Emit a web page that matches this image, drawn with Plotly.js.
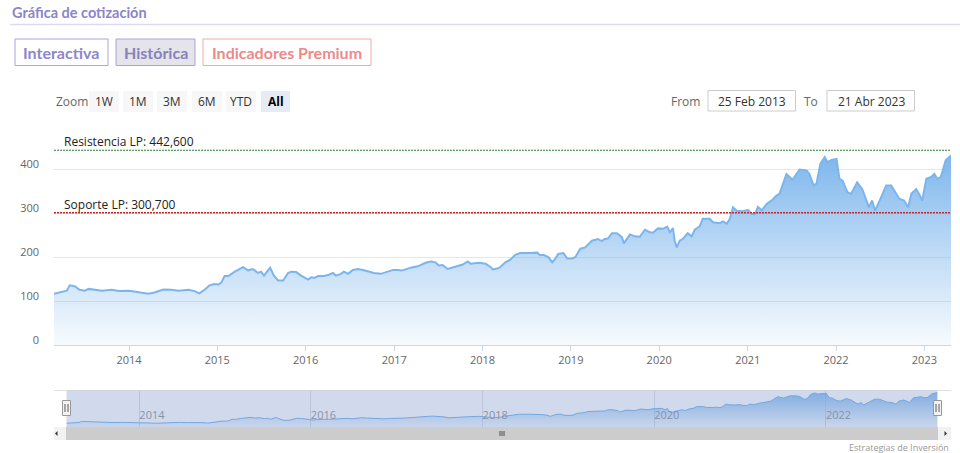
<!DOCTYPE html>
<html>
<head>
<meta charset="utf-8">
<script src="https://cdn.plot.ly/plotly-3.0.1.min.js"></script>
<style>
html,body{margin:0;padding:0;background:#fff;}
#chart{width:960px;height:453px;}
</style>
</head>
<body>
<div id="chart"></div>
<script>
// ---------------- DATA ----------------
const dates = [
"2013-02-25","2013-03-28","2013-04-19","2013-05-01","2013-05-21","2013-06-11","2013-07-02","2013-07-18","2013-08-12","2013-09-11",
"2013-10-22","2013-11-20","2014-01-01","2014-02-11","2014-03-22","2014-04-16","2014-05-23","2014-06-25","2014-07-24","2014-09-04",
"2014-09-29","2014-10-19","2014-11-09","2014-11-30","2014-12-20","2015-01-06","2015-01-18","2015-01-31","2015-02-16","2015-03-11",
"2015-04-17","2015-05-08","2015-05-28","2015-06-18","2015-07-01","2015-07-13","2015-07-29","2015-08-07","2015-08-23","2015-09-09",
"2015-09-30","2015-10-20","2015-11-02","2015-11-23","2015-12-13","2016-01-11","2016-01-24","2016-02-05","2016-02-22","2016-03-16",
"2016-04-06","2016-04-23","2016-05-05","2016-05-26","2016-06-07","2016-06-24","2016-07-14","2016-08-04","2016-08-29","2016-09-19",
"2016-10-09","2016-11-07","2016-11-28","2016-12-27","2017-01-17","2017-01-29","2017-02-11","2017-02-27","2017-03-10","2017-04-08",
"2017-05-11","2017-06-01","2017-06-21","2017-07-03","2017-07-20","2017-08-10","2017-09-04","2017-10-11","2017-11-01","2017-11-13",
"2017-12-16","2018-01-14","2018-02-04","2018-02-12","2018-03-03","2018-03-15","2018-04-05","2018-04-26","2018-05-16","2018-06-06",
"2018-07-17","2018-08-15","2018-08-27","2018-09-09","2018-09-30","2018-10-16","2018-10-28","2018-11-10","2018-12-01","2018-12-17",
"2019-01-07","2019-01-20","2019-02-09","2019-03-01","2019-03-29","2019-04-23","2019-05-09","2019-05-21","2019-06-03","2019-06-20",
"2019-07-10","2019-07-31","2019-08-08","2019-09-02","2019-09-23","2019-10-13","2019-11-03","2019-11-24","2019-12-06","2019-12-27",
"2020-01-17","2020-02-03","2020-02-15","2020-02-27","2020-03-05","2020-03-14","2020-03-26","2020-04-08","2020-04-28","2020-05-14",
"2020-05-27","2020-06-17","2020-06-29","2020-07-28","2020-08-10","2020-09-08","2020-09-20","2020-10-07","2020-10-19","2020-11-01",
"2020-11-17","2020-12-12","2021-01-02","2021-01-18","2021-01-31","2021-02-12","2021-02-28","2021-03-19","2021-04-09","2021-04-30",
"2021-05-12","2021-05-24","2021-06-10","2021-07-05","2021-08-03","2021-09-01","2021-09-13","2021-09-30","2021-10-12","2021-10-28",
"2021-11-15","2021-11-27","2021-12-13","2022-01-03","2022-01-15","2022-01-28","2022-02-17","2022-03-04","2022-03-29","2022-04-19",
"2022-05-05","2022-05-17","2022-05-30","2022-06-11","2022-07-06","2022-07-27","2022-08-17","2022-09-07","2022-09-19","2022-10-09",
"2022-10-26","2022-11-08","2022-11-28","2022-12-10","2022-12-23","2023-01-09","2023-01-29","2023-02-11","2023-02-23","2023-03-10",
"2023-03-30","2023-04-21"
];
const prices = [
116.5,120,123.5,135.6,133.6,125.5,123.5,127.5,125.5,123.5,
125.5,122.5,123.5,120,116.5,119.5,126,125.5,123.5,125.5,
122.5,117.5,125.5,135.6,138.6,137.6,142.6,156.7,156.7,165.7,
176.8,169.7,172.7,163.7,166.7,157.7,170.7,175.8,157.7,146.6,
146.6,163.7,166.7,165.7,157.7,148.6,153.7,152.6,156.7,156.7,
159.7,163.7,157.7,161.7,166.7,161.7,170.7,172.7,169.7,166.7,
163.7,161.7,165.7,170.7,170.7,169.3,170.7,174.7,175.8,178.8,
186.8,189.8,187.8,180.8,181.8,172.7,176.8,182.8,189.8,184.8,
186.8,184.8,176.8,171.7,173.7,176.8,187.8,193.8,204.9,208.9,
208.9,209.9,203.9,204.9,199.9,187.8,195.8,206.9,208.9,196.8,
196.8,199.9,218.9,221.9,237,241,236,241,242,254,
254,245,231,251,247,246,262,256,255,265,
264,269,256,266,237,222,237,241,254,247,
262,270,287,287,279,277,281,276,287,313,
305,304,307,298,298,314,306,320,328,339.5,
343.5,362.6,388.7,375.6,398.8,396.7,388.7,362.6,366.6,411.8,
426.9,415.8,420.8,422.9,377.7,373.6,347.5,343.5,369.6,354.5,
328.4,313,328.4,305,335.5,362.6,362.6,343.5,332.5,328.4,
313,343.5,354.5,343.5,328.4,377.7,381.7,388.7,377.7,381.7,
419.8,430.9
];
const yearTicks = ["2014-01-01","2015-01-01","2016-01-01","2017-01-01","2018-01-01","2019-01-01","2020-01-01","2021-01-01","2022-01-01","2023-01-01"];
const yearLabels = ["2014","2015","2016","2017","2018","2019","2020","2021","2022","2023"];
const navTicks = ["2014-01-01","2016-01-01","2018-01-01","2020-01-01","2022-01-01"];
const navLabels = ["2014","2016","2018","2020","2022"];
const yTickVals = [0,100,200,300,400,500];
const yTickText = ["0","100","200","300","400",""];
const levelNames = ["Resistencia LP","Soporte LP"];
const levelValues = [442.6,300.7];
const zoomButtons = ["1W","1M","3M","6M","YTD","All"];
const tabLabels = ["Interactiva","Histórica","Indicadores Premium"];
const chartTitle = "Gráfica de cotización";
const fromLabel = "25 Feb 2013";
const toLabel = "21 Abr 2023";
const creditText = "Estrategias de Inversión";

// ---------------- HELPERS ----------------
const W = 960, H = 453;
const px = x => x / W;
const py = y => 1 - y / H;
const FONT = "Open Sans, DejaVu Sans, sans-serif";
const fmt = v => v.toFixed(3).replace('.', ',');

const blue = "#7cb5ec";

const traces = [
  {
    type: "scatter", mode: "lines", x: dates, y: prices,
    xaxis: "x", yaxis: "y",
    line: {color: blue, width: 2},
    fill: "tozeroy",
    fillgradient: {type: "vertical", start: 0, stop: 431,
      colorscale: [[0, "rgba(124,181,236,0.06)"], [0.5, "rgba(124,181,236,0.5)"], [1, "rgba(124,181,236,0.98)"]]},
    hoverinfo: "skip", showlegend: false
  },
  {
    type: "scatter", mode: "lines", x: dates, y: prices,
    xaxis: "x2", yaxis: "y2",
    line: {color: blue, width: 1},
    fill: "tozeroy",
    fillgradient: {type: "vertical", start: 78, stop: 431,
      colorscale: [[0, "rgba(124,181,236,0.08)"], [1, "rgba(124,181,236,0.85)"]]},
    hoverinfo: "skip", showlegend: false
  }
];

const shapes = [];
const annotations = [];

// title and divider
annotations.push({xref:"paper", yref:"paper", x:px(10), y:py(12), xanchor:"left", yanchor:"middle",
  text:"<b>"+chartTitle+"</b>", showarrow:false, font:{family:"Lato, Inter, sans-serif", size:14.5, color:"#8b86c5"}});
shapes.push({type:"line", xref:"paper", yref:"paper", x0:px(10), x1:px(960), y0:py(24.5), y1:py(24.5),
  line:{color:"#dcd9f0", width:1.5}});

// tabs
const tabBoxes = [[15,108,"#ffffff","#a9a4dc","#8c87c9"],[116,195,"#e4e4ea","#a9a4dc","#8782bd"],[203,371,"#ffffff","#f2aaaa","#ec8a8a"]];
tabLabels.forEach((t,i)=>{
  const b = tabBoxes[i];
  shapes.push({type:"rect", xref:"paper", yref:"paper", x0:px(b[0]), x1:px(b[1]), y0:py(65.5), y1:py(39),
    fillcolor:b[2], line:{color:b[3], width:1}, layer:"below"});
  annotations.push({xref:"paper", yref:"paper", x:px((b[0]+b[1])/2), y:py(52.5), xanchor:"center", yanchor:"middle",
    text:"<b>"+t+"</b>", showarrow:false, font:{family:"Lato, Inter, sans-serif", size:16, color:b[4]}});
});

// zoom row
annotations.push({xref:"paper", yref:"paper", x:px(54), y:py(101.5), xanchor:"left", yanchor:"middle",
  text:"Zoom", showarrow:false, font:{family:FONT, size:12, color:"#666666"}});
const zb = [[89,119],[123,153],[157,187],[192,222],[226,256],[261,290]];
zoomButtons.forEach((t,i)=>{
  const b = zb[i];
  const active = (t === "All");
  shapes.push({type:"rect", xref:"paper", yref:"paper", x0:px(b[0]), x1:px(b[1]), y0:py(112), y1:py(91),
    fillcolor: active ? "#e6ebf5" : "#f7f7f7", line:{width:0}, layer:"below"});
  annotations.push({xref:"paper", yref:"paper", x:px((b[0]+b[1])/2), y:py(101.5), xanchor:"center", yanchor:"middle",
    text: active ? "<b>"+t+"</b>" : t, showarrow:false, font:{family:FONT, size:12, color: active ? "#000000" : "#333333"}});
});

// from / to
annotations.push({xref:"paper", yref:"paper", x:px(702), y:py(101.5), xanchor:"right", yanchor:"middle",
  text:"From", showarrow:false, font:{family:FONT, size:12, color:"#666666"}});
shapes.push({type:"rect", xref:"paper", yref:"paper", x0:px(708), x1:px(795.5), y0:py(111), y1:py(90.5),
  fillcolor:"#ffffff", line:{color:"#cccccc", width:1}, layer:"below"});
annotations.push({xref:"paper", yref:"paper", x:px(752), y:py(101.5), xanchor:"center", yanchor:"middle",
  text:fromLabel, showarrow:false, font:{family:FONT, size:12, color:"#333333"}});
annotations.push({xref:"paper", yref:"paper", x:px(820), y:py(101.5), xanchor:"right", yanchor:"middle",
  text:"To", showarrow:false, font:{family:FONT, size:12, color:"#666666"}});
shapes.push({type:"rect", xref:"paper", yref:"paper", x0:px(827), x1:px(914.5), y0:py(111), y1:py(90.5),
  fillcolor:"#ffffff", line:{color:"#cccccc", width:1}, layer:"below"});
annotations.push({xref:"paper", yref:"paper", x:px(871), y:py(101.5), xanchor:"center", yanchor:"middle",
  text:toLabel, showarrow:false, font:{family:FONT, size:12, color:"#333333"}});

// support / resistance levels
const levelColors = ["#2e7d32","#c62828"];
const levelWidths = [1,1.6];
levelNames.forEach((n,i)=>{
  shapes.push({type:"line", xref:"x domain", yref:"y", x0:0, x1:1, y0:levelValues[i], y1:levelValues[i],
    line:{color:levelColors[i], width:levelWidths[i], dash:"2px,1px"}, layer:"above"});
  annotations.push({xref:"paper", yref:"y", x:px(62), y:levelValues[i], xanchor:"left", yanchor:"bottom",
    yshift:-2, text:n+": "+fmt(levelValues[i]), showarrow:false, font:{family:FONT, size:12, color:"#222222"}});
});

// navigator: outline, mask, handles
shapes.push({type:"line", xref:"paper", yref:"paper", x0:px(54), x1:px(951), y0:py(390.5), y1:py(390.5),
  line:{color:"#e0e0e0", width:1}});
shapes.push({type:"rect", xref:"paper", yref:"paper", x0:px(66.5), x1:px(937.5), y0:py(427), y1:py(390.5),
  fillcolor:"rgba(102,133,194,0.3)", line:{width:0}, layer:"above"});
[66.5, 937.5].forEach(cx=>{
  shapes.push({type:"rect", xref:"paper", yref:"paper", x0:px(cx-4), x1:px(cx+4), y0:py(415.5), y1:py(400.5),
    fillcolor:"#f2f2f2", line:{color:"#999999", width:1}, layer:"above"});
  [-1.5,1.5].forEach(d=>{
    shapes.push({type:"line", xref:"paper", yref:"paper", x0:px(cx+d), x1:px(cx+d), y0:py(412), y1:py(404),
      line:{color:"#333333", width:0.8}, layer:"above"});
  });
});
// scrollbar
shapes.push({type:"rect", xref:"paper", yref:"paper", x0:px(54), x1:px(951), y0:py(440), y1:py(427),
  fillcolor:"#f2f2f2", line:{width:0}, layer:"above"});
shapes.push({type:"rect", xref:"paper", yref:"paper", x0:px(66), x1:px(938), y0:py(440), y1:py(427),
  fillcolor:"#cccccc", line:{width:0}, layer:"above"});
shapes.push({type:"path", xref:"paper", yref:"paper", layer:"above",
  path:`M ${px(57.5)} ${py(431)} L ${px(57.5)} ${py(436)} L ${px(55)} ${py(433.5)} Z`, fillcolor:"#333333", line:{width:0}});
shapes.push({type:"path", xref:"paper", yref:"paper", layer:"above",
  path:`M ${px(944.5)} ${py(431)} L ${px(944.5)} ${py(436)} L ${px(947)} ${py(433.5)} Z`, fillcolor:"#333333", line:{width:0}});
[-2,0,2].forEach(d=>{
  shapes.push({type:"line", xref:"paper", yref:"paper", x0:px(502+d), x1:px(502+d), y0:py(431), y1:py(436),
    line:{color:"#333333", width:0.8}, layer:"above"});
});

// credits
annotations.push({xref:"paper", yref:"paper", x:px(951), y:py(447), xanchor:"right", yanchor:"middle",
  text:creditText, showarrow:false, font:{family:FONT, size:9, color:"#999999"}});

const layout = {
  width: W, height: H,
  margin: {l:0, r:0, t:0, b:0},
  paper_bgcolor: "#ffffff", plot_bgcolor: "rgba(0,0,0,0)",
  showlegend: false,
  xaxis: {
    domain: [px(54), px(951)], anchor: "y", type: "date",
    range: [dates[0], dates[dates.length-1]],
    tickmode: "array", tickvals: yearTicks, ticktext: yearLabels,
    ticks: "outside", ticklen: 5, tickcolor: "#ccd6eb", tickwidth: 1,
    showline: true, linecolor: "#ccd6eb", linewidth: 1,
    showgrid: false, zeroline: false,
    tickfont: {family: FONT, size: 11, color: "#666666"},
    fixedrange: true
  },
  yaxis: {
    domain: [py(345), py(125)], anchor: "x",
    range: [0, 500],
    tickmode: "array", tickvals: yTickVals, ticktext: yTickText,
    ticks: "", showline: false, zeroline: false,
    gridcolor: "#e6e6e6", gridwidth: 1,
    tickfont: {family: FONT, size: 11, color: "#666666"},
    ticklabelstandoff: 14, ticklabelshift: -5,
    fixedrange: true
  },
  xaxis2: {
    domain: [px(66.5), px(937.5)], anchor: "y2", type: "date",
    range: [dates[0], dates[dates.length-1]],
    tickmode: "array", tickvals: navTicks, ticktext: navLabels,
    ticks: "", showline: false, zeroline: false,
    showgrid: true, gridcolor: "#e0e0e0", gridwidth: 1,
    ticklabelposition: "inside right",
    tickfont: {family: FONT, size: 11, color: "#999999"},
    fixedrange: true
  },
  yaxis2: {
    domain: [py(427), py(390.5)], anchor: "x2",
    range: [78, 452],
    showgrid: false, showticklabels: false, zeroline: false, showline: false, ticks: "",
    fixedrange: true
  },
  shapes: shapes,
  annotations: annotations
};

Plotly.newPlot("chart", traces, layout, {displayModeBar: false, staticPlot: true});
</script>
</body>
</html>
